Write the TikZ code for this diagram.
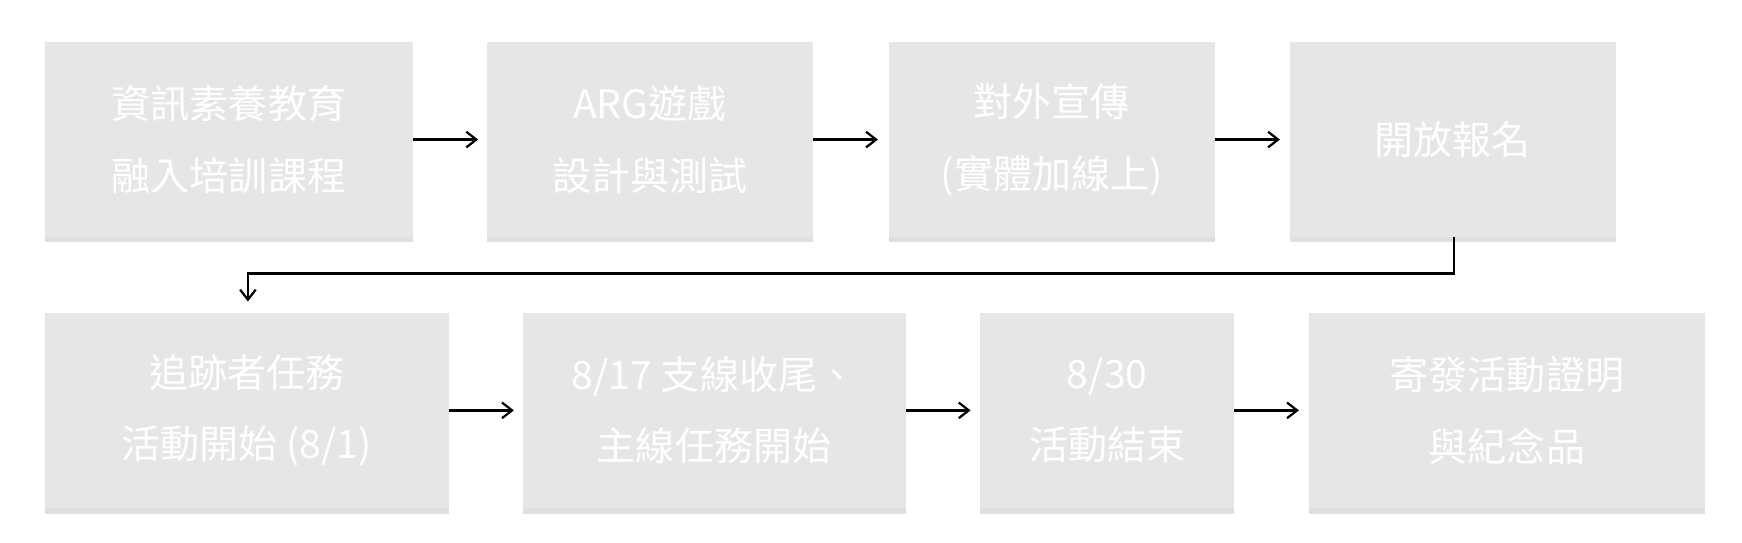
\documentclass[tikz,border=0pt]{standalone}
\usepackage{fontspec}
\setmainfont{Noto Sans CJK TC}
\usetikzlibrary{shadows,arrows.meta}
\definecolor{boxgray}{HTML}{E6E6E6}
\begin{document}
\begin{tikzpicture}[x=1pt,y=-1pt,
  stepbox/.style={fill=boxgray,draw=none,text=white,align=center,
    font=\fontsize{35}{64}\selectfont,
    drop shadow={shadow xshift=0pt,shadow yshift=-5pt,opacity=0.25}},
  conn/.style={line width=2.2pt,-{Straight Barb[length=9pt,width=14pt,line width=2pt]}}]
\useasboundingbox (0,0) rectangle (1560,485.4);
\newcommand{\mybox}[6]{\node[stepbox,minimum width=#3-#2,minimum height=#5-#4,inner sep=0] (#1) at ({(#2+#3)/2},{(#4+#5)/2}) {#6};}
\mybox{a}{40}{370}{38}{212}{資訊素養教育\\融入培訓課程}
\mybox{b}{436}{728}{38}{212}{ARG遊戲\\設計與測試}
\mybox{c}{796}{1088}{38}{212}{對外宣傳\\(實體加線上)}
\mybox{d}{1155}{1447}{38}{212}{開放報名}
\mybox{e}{40}{402}{280}{455}{追跡者任務\\活動開始 (8/1)}
\mybox{f}{468}{811}{280}{455}{8/17 支線收尾、\\主線任務開始}
\mybox{g}{878}{1105}{280}{455}{8/30\\活動結束}
\mybox{h}{1172}{1527}{280}{455}{寄發活動證明\\與紀念品}
\draw[conn] (a.east) -- ++(58,0);
\draw[conn] (b.east) -- ++(58,0);
\draw[conn] (c.east) -- ++(58,0);
\draw[conn] (e.east) -- ++(58,0);
\draw[conn] (f.east) -- ++(58,0);
\draw[conn] (g.east) -- ++(58,0);
\coordinate (d1) at (1302,245);
\coordinate (e1) at (222,245);
\coordinate (e2) at (222,270);
\draw[conn] (d.south -| d1) -- (d1) -- (e1) -- (e2);
\end{tikzpicture}
\end{document}
